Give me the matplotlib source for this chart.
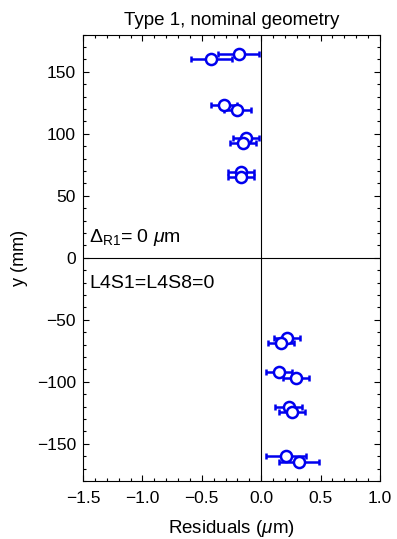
import numpy as np
import matplotlib
matplotlib.use('Agg')
import matplotlib.pyplot as plt
from matplotlib.ticker import MultipleLocator, FuncFormatter

plt.rcParams['font.family'] = ['Liberation Sans', 'DejaVu Sans']
plt.rcParams['mathtext.fontset'] = 'custom'
plt.rcParams['mathtext.rm'] = 'Liberation Sans'
plt.rcParams['mathtext.it'] = 'Liberation Sans:italic'

# residuals (um) vs y position (mm)
y_pos = [164, 160, 123.5, 119.5, 96.5, 92.5, 69, 65,
         -64.5, -69, -92.5, -97, -120, -124, -160, -165]
resid = [-0.19, -0.42, -0.31, -0.20, -0.13, -0.15, -0.17, -0.17,
         0.22, 0.17, 0.15, 0.29, 0.23, 0.26, 0.21, 0.32]
err = [0.17, 0.17, 0.11, 0.11, 0.11, 0.11, 0.11, 0.11,
       0.11, 0.11, 0.11, 0.11, 0.11, 0.11, 0.17, 0.17]

fig = plt.figure(figsize=(3.97, 5.39), dpi=100)
ax = fig.add_axes([83/397, 1 - 481/539, (380 - 83)/397, (481 - 34.5)/539])

ax.axvline(0, color='black', lw=0.8, zorder=1)
ax.axhline(0, color='black', lw=0.8, zorder=1)

ax.errorbar(resid, y_pos, xerr=err, fmt='o', mfc='white', mec='#0000ee',
            ecolor='#0000ee', ms=8, mew=1.8, elinewidth=1.8, capsize=2.5,
            capthick=1.8, zorder=3)

ax.set_xlim(-1.5, 1.0)
ax.set_ylim(-180, 180)
ax.xaxis.set_major_locator(MultipleLocator(0.5))
ax.xaxis.set_minor_locator(MultipleLocator(0.1))
ax.yaxis.set_major_locator(MultipleLocator(50))
ax.yaxis.set_minor_locator(MultipleLocator(10))
ax.xaxis.set_major_formatter(FuncFormatter(lambda v, p: ('%.1f' % v).replace('-', '\u2212')))
ax.yaxis.set_major_formatter(FuncFormatter(lambda v, p: ('%d' % round(v)).replace('-', '\u2212')))
ax.tick_params(which='both', direction='in', top=True, right=True,
               labelsize=12.5, width=0.8)
ax.tick_params(which='major', length=4, pad=5)
ax.tick_params(which='minor', length=2.5)
ax.tick_params(axis='x', which='major', pad=7)

ax.text(-1.45, 16, r'$\Delta_{\rm R1}$= 0 $\mathit{\mu}$m', fontsize=14,
        va='center', ha='left')
ax.text(-1.45, -21, 'L4S1=L4S8=0', fontsize=14, va='center', ha='left')

ax.set_title('Type 1, nominal geometry', fontsize=13.5, pad=7)
ax.set_xlabel(r'Residuals ($\mathit{\mu}$m)', fontsize=13.5, labelpad=9)
ax.set_ylabel('y (mm)', fontsize=13, labelpad=6)

fig.savefig('out.png', dpi=100)
